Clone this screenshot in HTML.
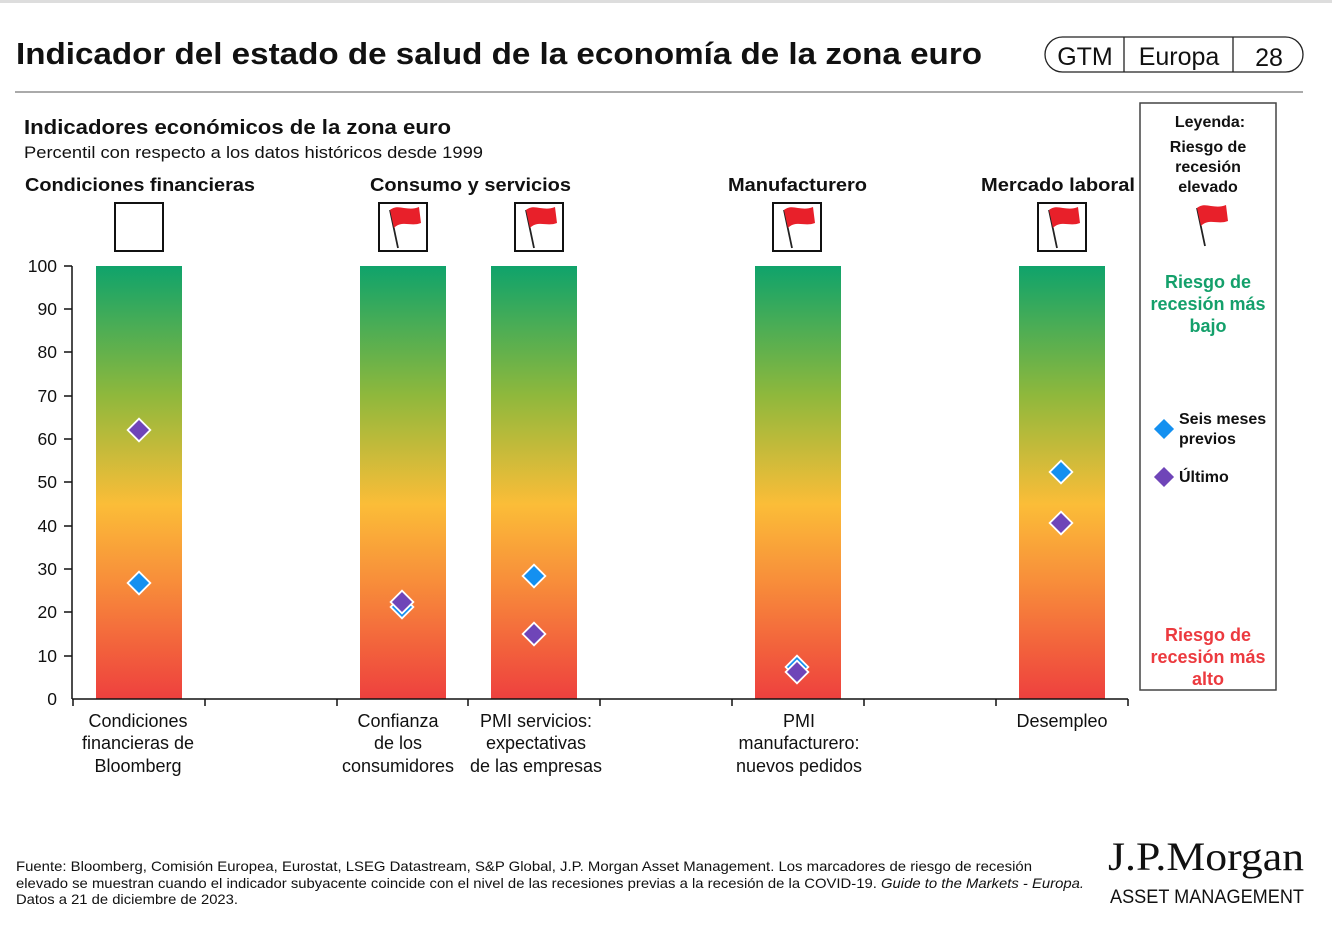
<!DOCTYPE html>
<html><head><meta charset="utf-8"><style>
body{margin:0;background:#fff;}
svg{display:block;font-family:"Liberation Sans",Arial,sans-serif;}
</style></head><body>
<svg width="1332" height="930" viewBox="0 0 1332 930" xmlns="http://www.w3.org/2000/svg">
<defs>
<linearGradient id="g" x1="0" y1="0" x2="0" y2="1">
<stop offset="0" stop-color="#0fa36b"/>
<stop offset="0.3" stop-color="#8fb83c"/>
<stop offset="0.55" stop-color="#fbbd38"/>
<stop offset="0.72" stop-color="#f8903a"/>
<stop offset="1" stop-color="#ee403e"/>
</linearGradient>
<g id="flag"><line x1="-13" y1="-18" x2="-5" y2="20" stroke="#222" stroke-width="1.8"/><path d="M-13,-18 C-5,-25 4,-16 16,-21 L18,-5 C8,-1 -1,-8 -9,0 Z" fill="#e8202a"/></g>
<g id="d"><rect x="-8" y="-8" width="16" height="16" transform="rotate(45)" stroke="#fff" stroke-width="1.8"/></g>
</defs>
<rect x="0" y="0" width="1332" height="3" fill="#ddd"/>
<text x="16" y="64" font-size="31" font-weight="bold" fill="#111" textLength="966" lengthAdjust="spacingAndGlyphs">Indicador del estado de salud de la economía de la zona euro</text>
<rect x="1045" y="37" width="258" height="35" rx="17.5" fill="none" stroke="#222" stroke-width="1.3"/>
<line x1="1124" y1="37" x2="1124" y2="72" stroke="#222" stroke-width="1.3"/>
<line x1="1233" y1="37" x2="1233" y2="72" stroke="#222" stroke-width="1.3"/>
<text x="1085" y="65" font-size="25" text-anchor="middle" fill="#111">GTM</text>
<text x="1179" y="65" font-size="25" text-anchor="middle" fill="#111">Europa</text>
<text x="1269" y="66" font-size="25" text-anchor="middle" fill="#111">28</text>
<line x1="15" y1="92" x2="1303" y2="92" stroke="#555" stroke-width="1"/>
<text x="24" y="134" font-size="20" font-weight="bold" fill="#111" textLength="427" lengthAdjust="spacingAndGlyphs">Indicadores económicos de la zona euro</text>
<text x="24" y="158" font-size="17" fill="#111" textLength="459" lengthAdjust="spacingAndGlyphs">Percentil con respecto a los datos históricos desde 1999</text>
<g font-size="18" font-weight="bold" fill="#111">
<text x="25" y="191" textLength="230" lengthAdjust="spacingAndGlyphs">Condiciones financieras</text>
<text x="370" y="191" textLength="201" lengthAdjust="spacingAndGlyphs">Consumo y servicios</text>
<text x="728" y="191" textLength="139" lengthAdjust="spacingAndGlyphs">Manufacturero</text>
<text x="981" y="191" textLength="154" lengthAdjust="spacingAndGlyphs">Mercado laboral</text>
</g>
<g fill="#fff" stroke="#111" stroke-width="2">
<rect x="115" y="203" width="48" height="48"/>
<rect x="379" y="203" width="48" height="48"/>
<rect x="515" y="203" width="48" height="48"/>
<rect x="773" y="203" width="48" height="48"/>
<rect x="1038" y="203" width="48" height="48"/>
</g>
<use href="#flag" x="403" y="228"/><use href="#flag" x="539" y="228"/><use href="#flag" x="797" y="228"/><use href="#flag" x="1062" y="228"/>
<g fill="url(#g)">
<rect x="96" y="266" width="86" height="433"/>
<rect x="360" y="266" width="86" height="433"/>
<rect x="491" y="266" width="86" height="433"/>
<rect x="755" y="266" width="86" height="433"/>
<rect x="1019" y="266" width="86" height="433"/>
</g>
<g stroke="#111" stroke-width="1.5">
<line x1="72" y1="266" x2="72" y2="699"/>
<line x1="72" y1="699" x2="1128" y2="699"/>
<line x1="64" y1="266" x2="72" y2="266"/><line x1="64" y1="309" x2="72" y2="309"/><line x1="64" y1="352" x2="72" y2="352"/><line x1="64" y1="396" x2="72" y2="396"/><line x1="64" y1="439" x2="72" y2="439"/><line x1="64" y1="482" x2="72" y2="482"/><line x1="64" y1="526" x2="72" y2="526"/><line x1="64" y1="569" x2="72" y2="569"/><line x1="64" y1="612" x2="72" y2="612"/><line x1="64" y1="656" x2="72" y2="656"/>
<line x1="73" y1="699" x2="73" y2="706"/><line x1="205" y1="699" x2="205" y2="706"/><line x1="337" y1="699" x2="337" y2="706"/><line x1="468" y1="699" x2="468" y2="706"/><line x1="600" y1="699" x2="600" y2="706"/><line x1="732" y1="699" x2="732" y2="706"/><line x1="864" y1="699" x2="864" y2="706"/><line x1="996" y1="699" x2="996" y2="706"/><line x1="1128" y1="699" x2="1128" y2="706"/>
</g>
<g font-size="17.5" fill="#111" text-anchor="end">
<text x="57" y="272">100</text><text x="57" y="315">90</text><text x="57" y="358">80</text><text x="57" y="402">70</text><text x="57" y="445">60</text><text x="57" y="488">50</text><text x="57" y="532">40</text><text x="57" y="575">30</text><text x="57" y="618">20</text><text x="57" y="662">10</text><text x="57" y="705">0</text>
</g>
<g font-size="18" fill="#111" text-anchor="middle">
<text x="138" y="727">Condiciones</text><text x="138" y="749">financieras de</text><text x="138" y="772">Bloomberg</text>
<text x="398" y="727">Confianza</text><text x="398" y="749">de los</text><text x="398" y="772">consumidores</text>
<text x="536" y="727">PMI servicios:</text><text x="536" y="749">expectativas</text><text x="536" y="772">de las empresas</text>
<text x="799" y="727">PMI</text><text x="799" y="749">manufacturero:</text><text x="799" y="772">nuevos pedidos</text>
<text x="1062" y="727">Desempleo</text>
</g>
<g fill="#1490f0"><use href="#d" x="139" y="583"/><use href="#d" x="402" y="607"/><use href="#d" x="534" y="576"/><use href="#d" x="797" y="667"/><use href="#d" x="1061" y="472"/></g>
<g fill="#6f45b8"><use href="#d" x="139" y="430"/><use href="#d" x="402" y="602"/><use href="#d" x="534" y="634"/><use href="#d" x="797" y="672"/><use href="#d" x="1061" y="523"/></g>
<rect x="1140" y="103" width="136" height="587" fill="#fff" stroke="#444" stroke-width="1.5"/>
<g font-size="16" font-weight="bold" fill="#111" text-anchor="middle">
<text x="1210" y="127">Leyenda:</text>
<text x="1208" y="152">Riesgo de</text><text x="1208" y="172">recesión</text><text x="1208" y="192">elevado</text>
</g>
<use href="#flag" x="1210" y="226"/>
<g font-size="18" font-weight="bold" fill="#14a06b" text-anchor="middle">
<text x="1208" y="288">Riesgo de</text><text x="1208" y="310">recesión más</text><text x="1208" y="332">bajo</text>
</g>
<g font-size="18" font-weight="bold" fill="#ec3a3f" text-anchor="middle">
<text x="1208" y="641">Riesgo de</text><text x="1208" y="663">recesión más</text><text x="1208" y="685">alto</text>
</g>
<use href="#d" x="1164" y="429" fill="#1490f0"/>
<use href="#d" x="1164" y="477" fill="#6f45b8"/>
<g font-size="16" font-weight="bold" fill="#111">
<text x="1179" y="424">Seis meses</text><text x="1179" y="444">previos</text>
<text x="1179" y="482">Último</text>
</g>
<g font-size="14" fill="#111">
<text x="16" y="871" textLength="1016" lengthAdjust="spacingAndGlyphs">Fuente: Bloomberg, Comisión Europea, Eurostat, LSEG Datastream, S&amp;P Global, J.P. Morgan Asset Management. Los marcadores de riesgo de recesión</text>
<text x="16" y="888" textLength="1068" lengthAdjust="spacingAndGlyphs">elevado se muestran cuando el indicador subyacente coincide con el nivel de las recesiones previas a la recesión de la COVID-19. <tspan font-style="italic">Guide to the Markets - Europa.</tspan></text>
<text x="16" y="904" textLength="222" lengthAdjust="spacingAndGlyphs">Datos a 21 de diciembre de 2023.</text>
</g>
<text x="1304" y="870" font-size="40" font-family="Liberation Serif,serif" text-anchor="end" fill="#111" textLength="196" lengthAdjust="spacingAndGlyphs">J.P.Morgan</text>
<text x="1304" y="903" font-size="19" text-anchor="end" fill="#111" textLength="194" lengthAdjust="spacingAndGlyphs">ASSET MANAGEMENT</text>
</svg>
</body></html>
